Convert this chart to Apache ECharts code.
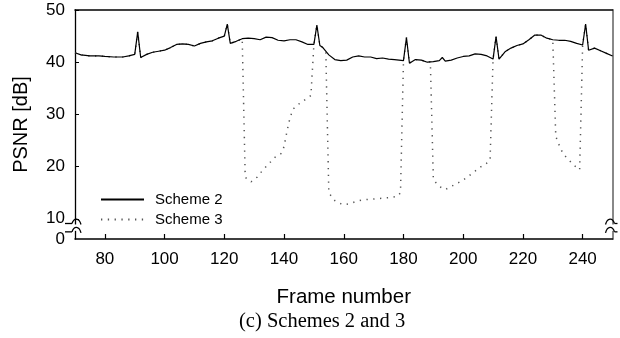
<!DOCTYPE html>
<html><head><meta charset="utf-8">
<script src="https://cdn.jsdelivr.net/npm/echarts@6/dist/echarts.min.js"></script>
<style>html,body{margin:0;padding:0;background:#fff}#c{width:620px;height:338px}</style>
</head><body><div id="c"></div>
<script>
// Scheme 2 (solid)
const s2Frames = [70,72,75,78,80,83,86,88,90,91,92,94,96,98,100,102,104,106,108,110,112,114,116,118,120,121,122,124,126,128,130,132,134,136,138,140,142,144,146,148,150,151,152,153,155,157,159,161,163,165,167,169,171,173,175,177,180,181,182,184,186,188,190,192,193,194,196,198,200,202,204,206,208,210,211,212,214,216,218,220,222,224,226,228,230,232,234,236,238,240,241,242,244,246,248,250];
const s2Values = [41.8,41.4,41.2,41.2,41.1,41.0,41.0,41.2,41.5,45.8,40.9,41.5,41.9,42.1,42.3,42.8,43.4,43.5,43.4,43.1,43.6,43.9,44.1,44.6,45.0,47.3,43.6,44.0,44.5,44.6,44.5,44.3,44.8,44.7,44.2,44.1,44.3,44.3,43.9,43.4,43.4,47.1,43.2,42.8,41.4,40.5,40.3,40.4,41.0,41.2,41.0,41.0,40.7,40.8,40.6,40.5,40.3,44.7,39.8,40.5,40.4,40.0,40.1,40.3,40.9,40.2,40.4,40.8,41.1,41.2,41.6,41.5,41.2,40.6,44.9,40.6,42.0,42.7,43.2,43.5,44.3,45.2,45.2,44.6,44.3,44.2,44.2,44.0,43.6,43.3,47.3,42.3,42.7,42.2,41.7,41.2];
// Scheme 3 (dotted)
const s3Frames = [70,72,75,78,80,83,86,88,90,91,92,94,96,98,100,102,104,106,108,110,112,114,116,118,120,121,122,124,126,127,128,129,131,133,135,137,139,140,141,142,143,145,147,149,150,151,152,153,154,155,156,157,158,160,162,164,166,168,170,172,174,176,178,179,180,181,182,184,186,188,189,190,191,192,194,197,199,201,203,206,208,209,210,211,212,214,216,218,220,222,224,226,228,230,231,232,233,234,236,238,239,240,241,242,244,246,248,250];
const s3Values = [41.8,41.4,41.2,41.2,41.1,41.0,41.0,41.2,41.5,45.8,40.9,41.5,41.9,42.1,42.3,42.8,43.4,43.5,43.4,43.1,43.6,43.9,44.1,44.6,45.0,47.3,43.6,44.0,44.5,18.0,17.4,17.1,18.0,19.4,20.6,21.8,22.5,23.8,26.8,29.3,31.0,32.0,32.8,33.6,43.4,47.1,43.2,42.8,41.8,15.0,14.2,13.5,13.1,12.7,12.9,13.3,13.6,13.7,13.8,13.9,14.0,14.1,14.3,15.0,40.3,44.7,39.8,40.5,40.4,40.0,40.1,17.6,16.8,16.2,15.6,16.5,17.1,17.8,18.7,20.0,20.7,21.2,40.6,44.9,40.6,42.0,42.7,43.2,43.5,44.3,45.2,45.2,44.6,44.3,25.8,24.3,23.0,22.1,20.9,19.8,19.4,43.3,47.3,42.3,42.7,42.2,41.7,41.2];
const xTicks = [80,100,120,140,160,180,200,220,240];
const yTicks = [10,20,30,40,50];
const yZero = 6.13; // bottom of broken axis, labelled "0"
const yLabels = [yZero,10,20,30,40,50];

const zip = (a,b) => a.map((v,i)=>[v,b[i]]);
const chart = echarts.init(document.getElementById('c'));
const font = 'Liberation Sans, Arial, sans-serif';
const caption = {
  type:'text',left:239,top:311,
  style:{text:'(c) Schemes 2 and 3',fontFamily:'Liberation Serif, Times New Roman, serif',fontSize:20.5,fill:'#000'}
};
chart.setOption({
  animation:false,
  backgroundColor:'#fff',
  grid:{left:75,right:7.5,top:10,bottom:99},
  legend:{
    orient:'vertical', left:95, top:187, itemWidth:43, itemHeight:14, itemGap:5,
    data:['Scheme 2','Scheme 3'],
    itemStyle:{opacity:0},
    textStyle:{fontFamily:font,fontSize:15,color:'#000',padding:[0,0,0,6]}
  },
  xAxis:[{
    type:'value',min:70,max:250,
    name:'Frame number',nameLocation:'middle',nameGap:48,
    nameTextStyle:{fontFamily:font,fontSize:20.5,color:'#000'},
    axisLine:{onZero:false,lineStyle:{color:'#000',width:1.5}},
    axisTick:{inside:true,length:5,customValues:xTicks,lineStyle:{color:'#000',width:1.2}},
    axisLabel:{customValues:xTicks,margin:12,fontFamily:font,fontSize:17,color:'#000'},
    splitLine:{show:false}
  },{
    type:'value',min:70,max:250,position:'top',
    axisLine:{show:true,onZero:false,lineStyle:{color:'#000',width:1.5}},
    axisTick:{show:false},axisLabel:{show:false},splitLine:{show:false}
  }],
  yAxis:[{
    type:'value',min:yZero,max:50,
    name:'PSNR [dB]',nameLocation:'middle',nameGap:44,nameRotate:90,
    nameTextStyle:{fontFamily:font,fontSize:20,color:'#000'},
    axisLine:{show:true,onZero:false,lineStyle:{color:'#000',width:1.3}},
    axisTick:{show:true,inside:true,length:4,customValues:yTicks,lineStyle:{color:'#000',width:1}},
    axisLabel:{customValues:yLabels,margin:10,fontFamily:font,fontSize:17,color:'#000',
      formatter:v=> v<10 ? '0' : String(Math.round(v))},
    splitLine:{show:false}
  },{
    type:'value',min:yZero,max:50,position:'right',
    axisLine:{show:true,onZero:false,lineStyle:{color:'#888',width:2}},
    axisTick:{show:false},axisLabel:{show:false},splitLine:{show:false}
  }],
  series:[{
    name:'Scheme 3',type:'line',data:zip(s3Frames,s3Values),symbol:'none',z:2,
    itemStyle:{color:'#555'},
    lineStyle:{color:'#555',width:1.5,type:[1.3,5.5]}
  },{
    name:'Scheme 2',type:'line',data:zip(s2Frames,s2Values),symbol:'none',z:3,
    itemStyle:{color:'#000'},
    lineStyle:{color:'#000',width:1.2}
  }],
  graphic:[caption]
});

// axis-break marks (decoration), positioned through the axes
function breakMarks(){
  const xl = chart.convertToPixel({xAxisIndex:0},70);
  const xr = chart.convertToPixel({xAxisIndex:0},250);
  const yU = chart.convertToPixel({yAxisIndex:0},9.1);
  const yD = chart.convertToPixel({yAxisIndex:0},7.5);
  const els = [caption];
  const st = {stroke:'#000',lineWidth:1.3,fill:null};
  function curl(x,y,dir){
    const out = [];
    if(dir>0){
      out.push({type:'line',z:100,shape:{x1:x-10,y1:y,x2:x-3,y2:y},style:st});
      out.push({type:'bezierCurve',z:100,shape:{x1:x-3,y1:y,cpx1:x-1,cpy1:y-6,cpx2:x+4,cpy2:y-6,x2:x+6,y2:y+1},style:st});
    }else{
      out.push({type:'bezierCurve',z:100,shape:{x1:x-7,y1:y+1,cpx1:x-5,cpy1:y-6,cpx2:x,cpy2:y-6,x2:x+2,y2:y},style:st});
      out.push({type:'line',z:100,shape:{x1:x+2,y1:y,x2:x+5,y2:y},style:st});
    }
    return out;
  }
  [[xl,1],[xr,-1]].forEach(([x,d])=>{
    els.push({type:'rect',z:99,shape:{x:x-3,y:yU+1,width:6,height:yD-yU-2},style:{fill:'#fff'}});
    curl(x,yU,d).forEach(e=>els.push(e));
    curl(x,yD,d).forEach(e=>els.push(e));
  });
  chart.setOption({graphic:els});
}
breakMarks();
</script>
</body></html>
